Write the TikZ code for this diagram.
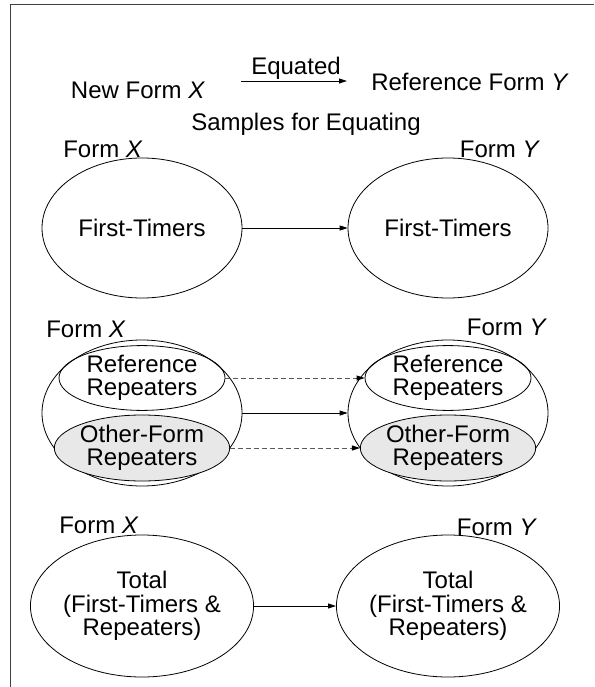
\documentclass[tikz,border=0pt]{standalone}
\usepackage{fontspec}
\setmainfont{Liberation Sans}
\usetikzlibrary{shapes.geometric,arrows.meta}
\begin{document}
\begin{tikzpicture}[x=1pt,y=-1pt,
  txt/.style={font=\fontsize{24}{23.5}\selectfont, inner sep=0pt, align=center},
  oval/.style={ellipse, draw=black, line width=0.8pt, inner sep=0pt, font=\fontsize{24}{23.5}\selectfont, align=center},
  bigoval/.style={oval, minimum width=200pt, minimum height=144pt},
  smalloval/.style={oval, minimum width=166pt, minimum height=64pt},
  conn/.style={-{Triangle[length=8pt,width=5pt]}, line width=0.9pt},
  dconn/.style={-{Triangle[length=8pt,width=5pt,color=black]}, line width=0.9pt, draw=black!65, dash pattern=on 5pt off 3pt}
]
\useasboundingbox (0,0) rectangle (594,687);
\draw[line width=1pt, black!75] (10,687) -- (10,5) -- (594,5);

% header
\node[txt] (newx) at (138,90) {New Form \textit{X}};
\node[txt] (eq) at (296,68) {Equated};
\node[txt] (refy) at (470,82) {Reference Form \textit{Y}};
\coordinate (a1) at (241,81);
\coordinate (a2) at (347,81);
\draw[conn] (a1) -- (a2);
\node[txt] (samp) at (306,124) {Samples for Equating};

% row 1
\node[txt] (fx1) at (103,149) {Form \textit{X}};
\node[txt] (fy1) at (500,149) {Form \textit{Y}};
\node[bigoval, minimum height=140pt] (e1L) at (142,228) {First-Timers};
\node[bigoval, minimum height=140pt] (e1R) at (448,228) {First-Timers};
\draw[conn] (e1L.east) -- (e1R.west);

% row 2
\node[txt] (fx2) at (86,329) {Form \textit{X}};
\node[txt] (fy2) at (507,327) {Form \textit{Y}};
\node[bigoval, minimum height=146pt] (e2L) at (142,413) {};
\node[bigoval, minimum height=146pt] (e2R) at (448,413) {};
\node[smalloval] (refL) at (142,378) {Reference\\Repeaters};
\node[smalloval, fill=black!9, minimum height=66pt] (othL) at (142,448) {Other-Form\\Repeaters};
\node[smalloval] (refR) at (448,378) {Reference\\Repeaters};
\node[smalloval, fill=black!9, minimum height=66pt] (othR) at (448,448) {Other-Form\\Repeaters};
\draw[dconn] (refL.east) -- (refR.west);
\draw[dconn] (othL.east) -- (othR.west);
\draw[conn] (e2L.east) -- (e2R.west);

% row 3
\node[txt] (fx3) at (99,525) {Form \textit{X}};
\node[txt] (fy3) at (497,527) {Form \textit{Y}};
\node[bigoval, minimum height=142pt] (e3L) at (142,606) {Total\\(First-Timers \&\\Repeaters)};
\node[bigoval, minimum height=142pt] (e3R) at (448,606) {Total\\(First-Timers \&\\Repeaters)};
\draw[conn] (e3L.east) -- (e3R.west);
\end{tikzpicture}
\end{document}
